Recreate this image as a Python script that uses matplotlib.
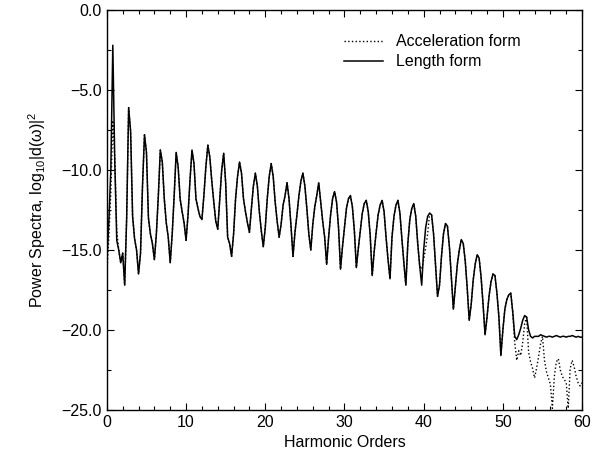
import numpy as np
import matplotlib
matplotlib.use("Agg")
import matplotlib.pyplot as plt
from matplotlib.ticker import MultipleLocator, FuncFormatter

plt.rcParams['font.family'] = ['Liberation Sans', 'DejaVu Sans']
plt.rcParams['mathtext.fontset'] = 'custom'
plt.rcParams['mathtext.rm'] = 'Liberation Sans'
plt.rcParams['mathtext.it'] = 'Liberation Sans:italic'

# harmonic order grid (step 0.25) and spectra
harmonics = np.linspace(0, 60, 241)

# rows: peak of each odd harmonic and the following trough (8 points of 0.25)
length_form = [
    -15.8, -13.2, -10.0,                                      # 0 .. 0.5
    -2.2, -9.5, -14.4, -15.0, -15.8, -15.2, -17.2, -13.0,     # h1
    -6.1, -7.6, -12.9, -14.3, -15.0, -16.5, -15.2, -11.0,     # h3
    -7.8, -8.9, -13.0, -14.0, -14.6, -15.6, -14.0, -11.6,     # h5
    -8.75, -9.5, -11.8, -13.3, -14.2, -15.8, -14.0, -11.6,    # h7
    -8.9, -9.8, -11.8, -12.6, -13.3, -14.4, -12.8, -10.6,     # h9
    -8.75, -9.6, -11.8, -12.4, -12.9, -13.1, -11.6, -9.8,     # h11
    -8.45, -9.2, -10.7, -12.0, -13.2, -13.7, -11.8, -10.0,    # h13
    -8.95, -10.8, -14.2, -14.6, -15.4, -14.0, -11.8, -10.4,   # h15
    -9.5, -10.2, -11.8, -12.6, -13.3, -13.9, -12.4, -11.0,    # h17
    -10.2, -11.0, -12.6, -13.8, -14.8, -13.6, -11.8, -10.4,   # h19
    -9.6, -10.4, -12.0, -13.2, -14.2, -13.4, -12.2, -11.6,    # h21
    -10.8, -11.8, -13.5, -15.4, -13.9, -12.8, -11.6, -10.7,   # h23
    -10.2, -11.0, -12.4, -14.0, -15.0, -13.4, -12.3, -11.6,   # h25
    -10.8, -12.0, -13.2, -14.2, -15.9, -14.2, -12.8, -11.8,   # h27
    -11.35, -12.0, -13.6, -16.2, -14.8, -13.6, -12.4, -11.8,  # h29
    -11.6, -12.3, -13.8, -16.1, -14.9, -13.8, -12.7, -12.1,   # h31
    -11.9, -12.6, -14.1, -16.6, -15.1, -13.9, -12.8, -12.2,   # h33
    -11.9, -12.6, -14.2, -15.6, -16.8, -14.2, -12.9, -12.2,   # h35
    -11.9, -12.7, -14.3, -15.8, -17.2, -14.6, -13.1, -12.4,   # h37
    -12.1, -12.9, -14.6, -16.0, -17.2, -15.0, -13.6, -12.9,   # h39
    -12.7, -12.8, -14.0, -15.9, -17.9, -17.2, -15.4, -14.0,   # h41
    -13.35, -13.5, -14.8, -16.8, -18.7, -17.3, -15.9, -15.0,  # h43
    -14.35, -14.6, -15.7, -17.4, -19.4, -18.4, -16.9, -15.9,  # h45
    -15.3, -15.5, -16.7, -18.4, -20.3, -19.2, -17.9, -17.0,   # h47
    -16.5, -16.6, -17.7, -19.2, -21.6, -20.0, -18.7, -18.1,   # h49
    -17.8, -17.7, -18.9, -20.4, -20.6, -20.3, -19.9, -19.4,   # h51
    -19.1, -19.2, -20.0, -20.4, -20.5, -20.4, -20.4, -20.4,   # h53
    -20.3, -20.35, -20.4, -20.45, -20.4, -20.4, -20.45, -20.4,   # h55
    -20.35, -20.4, -20.45, -20.4, -20.4, -20.45, -20.4, -20.4,   # h57
    -20.35, -20.4, -20.45, -20.4, -20.45, -20.45,                # h59 .. 60
]

# acceleration form follows the length form except in these stretches
accel_start = [-16.5, -14.2, -11.4, -6.9, -9.2, -13.8, -15.0]   # h = 0 .. 1.5
accel_h40 = [-16.2, -15.6, -14.9, -14.0]                        # h = 39.75 .. 40.5
accel_tail = [                                                  # h = 51.5 .. 60
    -20.8, -21.9,
    -21.3, -21.6, -20.8, -19.6,
    -19.2, -21.4, -22.0, -22.4,
    -23.0, -22.4, -21.7, -20.9,
    -20.4, -21.9, -22.6, -23.0,
    -23.4, -24.9, -22.9, -22.0,
    -21.8, -22.5, -22.9, -23.1,
    -23.3, -24.9, -22.4, -21.9,
    -22.3, -22.9, -23.3, -23.5,
    -23.3,
]
accel_form = list(length_form)
accel_form[:len(accel_start)] = accel_start
accel_form[159:159 + len(accel_h40)] = accel_h40
accel_form[-len(accel_tail):] = accel_tail

fig = plt.figure(figsize=(5.97, 4.57), dpi=100)
ax = fig.add_axes([0.179, 0.103, 0.796, 0.875])

ax.plot(harmonics, accel_form, color='black', lw=1.0, ls=':', label='Acceleration form')
ax.plot(harmonics, length_form, color='black', lw=1.1, ls='-', label='Length form')

ax.set_xlim(0, 60)
ax.set_ylim(-25, 0)
ax.xaxis.set_major_locator(MultipleLocator(10))
ax.xaxis.set_minor_locator(MultipleLocator(2))
ax.yaxis.set_major_locator(MultipleLocator(5))
ax.yaxis.set_minor_locator(MultipleLocator(2.5))
ax.yaxis.set_major_formatter(FuncFormatter(lambda v, p: f'{v:.1f}'.replace('-', '\u2212')))
ax.tick_params(which='both', direction='in', top=True, right=True, labelsize=11.5, width=0.8)
ax.tick_params(which='major', length=5)
ax.tick_params(which='minor', length=3)
for s in ax.spines.values():
    s.set_linewidth(1.0)

ax.set_xlabel('Harmonic Orders', fontsize=11.5)
ax.set_ylabel(r'Power Spectra, log$_{10}$|d(ω)|$^2$', fontsize=11.5, labelpad=10)

ax.legend(loc='upper right', bbox_to_anchor=(0.9, 0.975), frameon=False,
          fontsize=11.5, handlelength=2.4, labelspacing=0.3, handletextpad=0.8)

fig.savefig('out.png', dpi=100)
